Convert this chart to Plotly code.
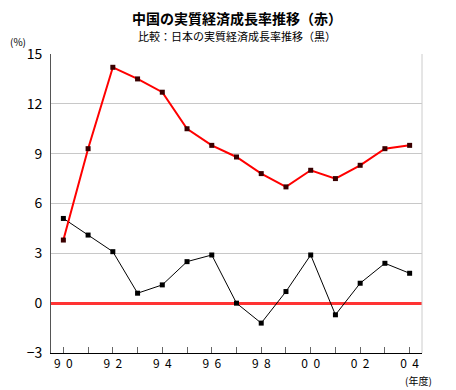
import plotly.graph_objects as go

years = ["90", "91", "92", "93", "94", "95", "96", "97", "98", "99", "00", "01", "02", "03", "04"]
china = [3.8, 9.3, 14.2, 13.5, 12.7, 10.5, 9.5, 8.8, 7.8, 7.0, 8.0, 7.5, 8.3, 9.3, 9.5]
japan = [5.1, 4.1, 3.1, 0.6, 1.1, 2.5, 2.9, 0.0, -1.2, 0.7, 2.9, -0.7, 1.2, 2.4, 1.8]
tick_labels = ["9\u00a0\u00a00", "", "9\u00a0\u00a02", "", "9\u00a0\u00a04", "", "9\u00a0\u00a06", "",
               "9\u00a0\u00a08", "", "0\u00a0\u00a00", "", "0\u00a0\u00a02", "", "0\u00a0\u00a04"]
y_ticks = [-3, 0, 3, 6, 9, 12, 15]

title = "中国の実質経済成長率推移（赤）"
subtitle = "比較：日本の実質経済成長率推移（黒）"

font = "Noto Sans CJK JP, sans-serif"
xs = list(range(len(years)))

fig = go.Figure()
fig.add_trace(go.Scatter(
    x=xs, y=japan, mode="lines+markers",
    line=dict(color="#000000", width=1),
    marker=dict(symbol="square", size=5, color="#000000"),
    showlegend=False,
))
fig.add_trace(go.Scatter(
    x=xs, y=china, mode="lines+markers",
    line=dict(color="#ff0000", width=2),
    marker=dict(symbol="square", size=5, color="#3a0000"),
    showlegend=False,
))

# page body has an 8px default margin, so the figure is sized to fit after it
fig.update_layout(
    width=448, height=382,
    margin=dict(l=43, r=34, t=46, b=37, autoexpand=False),
    paper_bgcolor="white", plot_bgcolor="white",
    font=dict(family=font, color="#000000"),
    xaxis=dict(
        range=[-0.5, 14.5], tickmode="array", tickvals=xs, ticktext=tick_labels,
        ticks="inside", ticklen=6, tickcolor="#666666", tickwidth=1,
        showline=True, linecolor="#000000", linewidth=1,
        showgrid=False, zeroline=False, automargin=False,
        tickfont=dict(size=12, family=font), fixedrange=True,
    ),
    yaxis=dict(
        range=[-3, 15], tickmode="array", tickvals=y_ticks,
        showline=True, linecolor="#555555", linewidth=1,
        showgrid=True, gridcolor="#c8c8c8", gridwidth=1,
        zeroline=True, zerolinecolor="#ff3333", zerolinewidth=3,
        ticks="", ticklabelstandoff=5, automargin=False,
        tickfont=dict(size=14, family=font),
    ),
    shapes=[dict(type="line", xref="paper", yref="paper", x0=1, x1=1, y0=0, y1=1,
                 line=dict(color="#cccccc", width=1))],
    annotations=[
        dict(text="<b>" + title + "</b>", xref="paper", yref="paper", x=0.5, y=1, yshift=36,
             xanchor="center", yanchor="middle", showarrow=False, font=dict(size=14, family=font)),
        dict(text=subtitle, xref="paper", yref="paper", x=0.5, y=1, yshift=18,
             xanchor="center", yanchor="middle", showarrow=False, font=dict(size=11, family=font)),
        dict(text="(%)", xref="paper", yref="paper", x=0, y=1, xshift=-33, yshift=13,
             xanchor="center", yanchor="middle", showarrow=False, font=dict(size=10, family=font)),
        dict(text="(年度)", xref="paper", yref="paper", x=1, y=0, xshift=-4, yshift=-27,
             xanchor="center", yanchor="middle", showarrow=False, font=dict(size=10, family=font)),
    ],
)

fig.write_html("out.html")
